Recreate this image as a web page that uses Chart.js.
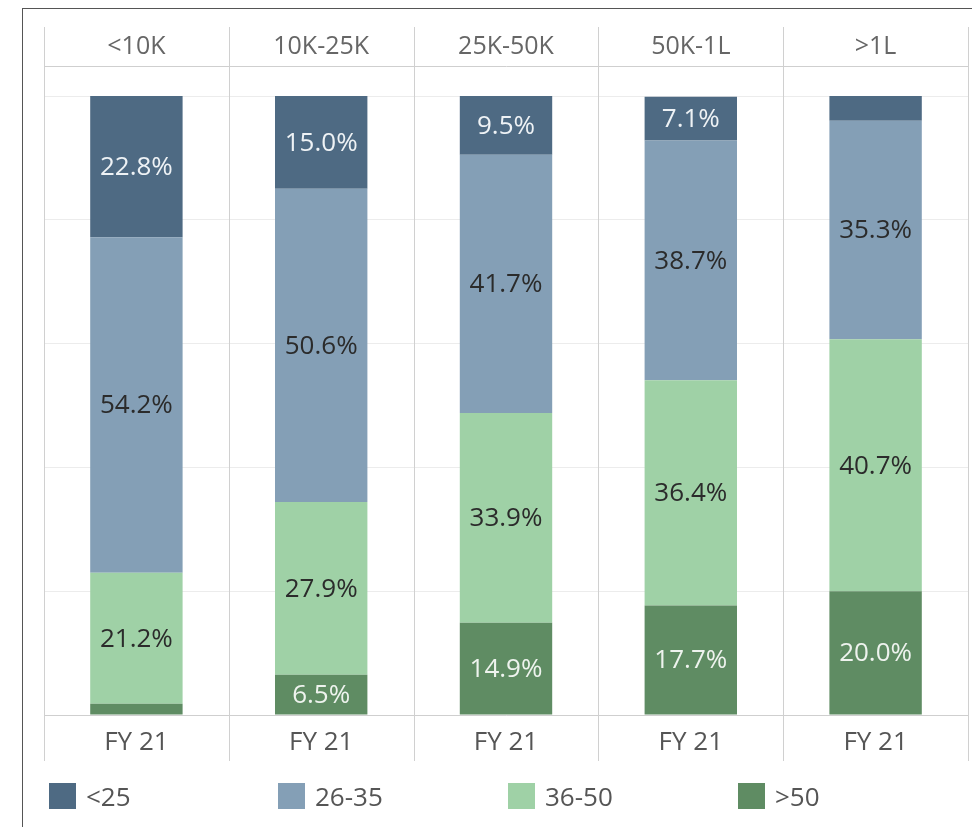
<!DOCTYPE html>
<html>
<head>
<meta charset="utf-8">
<script src="https://cdn.jsdelivr.net/npm/chart.js@4/dist/chart.umd.min.js"></script>
<style>
  html, body { margin: 0; padding: 0; background: #fff; overflow: hidden; }
  #wrap { position: relative; width: 972px; height: 827px; }
  #frame { position: absolute; left: 22px; top: 8px; width: 1000px; height: 900px; border: 1px solid #555; box-sizing: border-box; }
  #c { position: absolute; left: 0; top: 0; }
  #legend { position: absolute; top: 783px; left: 0; width: 972px; height: 30px; font-family: "Open Sans", sans-serif; font-size: 26px; color: #555; }
  .item { position: absolute; top: 0; display: flex; align-items: center; height: 26px; }
  .sw { width: 27px; height: 26px; margin-right: 10px; }
</style>
</head>
<body>
<div id="wrap">
  <div id="frame"></div>
  <canvas id="c" width="972" height="827"></canvas>
  <div id="legend"></div>
</div>
<script>
const incomeGroups = ["<10K", "10K-25K", "25K-50K", "50K-1L", ">1L"];
const periodLabels = ["FY 21", "FY 21", "FY 21", "FY 21", "FY 21"];
const ageBands = ["<25", "26-35", "36-50", ">50"];
const under25 = [22.8, 15.0, 9.5, 7.1, 4.0];
const age26to35 = [54.2, 50.6, 41.7, 38.7, 35.3];
const age36to50 = [21.2, 27.9, 33.9, 36.4, 40.7];
const over50 = [1.8, 6.5, 14.9, 17.7, 20.0];
const yTickValues = [0, 20, 40, 60, 80, 100];

const bandColors = ["#4e6a83", "#849fb6", "#9fd1a6", "#5f8c63"];
const labelColors = ["#eef2f5", "#2b2b2b", "#2b2b2b", "#eef3ee"];
const seriesValues = [under25, age26to35, age36to50, over50];

const order = [3, 2, 1, 0];
const datasets = order.map(i => ({
  label: ageBands[i],
  data: seriesValues[i],
  backgroundColor: bandColors[i],
  borderWidth: 0,
  barPercentage: 0.5,
  categoryPercentage: 1.0,
  labelColor: labelColors[i]
}));

const leg = document.getElementById('legend');
const legX = [49, 278, 508, 738];
ageBands.forEach((b, i) => {
  const d = document.createElement('div');
  d.className = 'item';
  d.style.left = legX[i] + 'px';
  d.innerHTML = '<div class="sw" style="background:' + bandColors[i] + '"></div><span>' + b.replace('<', '&lt;').replace('>', '&gt;') + '</span>';
  leg.appendChild(d);
});

const FONT = '"Open Sans", sans-serif';

const valueLabels = {
  id: 'valueLabels',
  afterDatasetsDraw(chart) {
    const ctx = chart.ctx;
    ctx.save();
    ctx.font = '26px ' + FONT;
    ctx.textAlign = 'center';
    ctx.textBaseline = 'middle';
    chart.data.datasets.forEach((ds, di) => {
      const meta = chart.getDatasetMeta(di);
      meta.data.forEach((el, j) => {
        const v = ds.data[j];
        if (v < 5) return;
        ctx.fillStyle = ds.labelColor;
        ctx.fillText(v.toFixed(1) + '%', el.x, (el.y + el.base) / 2 + 1);
      });
    });
    ctx.restore();
  }
};

const panelDividers = {
  id: 'panelDividers',
  afterDraw(chart) {
    const x = chart.scales.x;
    const top = chart.scales.xTop;
    const ctx = chart.ctx;
    const n = incomeGroups.length;
    ctx.save();
    ctx.strokeStyle = '#d0d0d0';
    ctx.lineWidth = 1;
    for (let i = 0; i <= n; i++) {
      const px = Math.round(x.left + i * (x.right - x.left) / n) + 0.5;
      ctx.beginPath();
      ctx.moveTo(px, top.top);
      ctx.lineTo(px, x.top + 46);
      ctx.stroke();
    }
    ctx.restore();
  }
};

new Chart(document.getElementById('c'), {
  type: 'bar',
  data: { labels: periodLabels, datasets },
  options: {
    responsive: false,
    animation: false,
    devicePixelRatio: 1,
    layout: { padding: { left: 44, right: 4, top: 27, bottom: 56 } },
    plugins: { legend: { display: false }, tooltip: { enabled: false } },
    scales: {
      x: {
        stacked: true,
        position: 'bottom',
        grid: { display: false, drawTicks: false },
        border: { display: true, color: '#cfcfcf' },
        ticks: { color: '#555', font: { family: FONT, size: 26, lineHeight: 1.0 }, padding: 15, maxRotation: 0 }
      },
      xTop: {
        type: 'category',
        labels: incomeGroups,
        position: 'top',
        grid: { display: false, drawTicks: false },
        border: { display: true, color: '#cfcfcf' },
        ticks: { color: '#666', font: { family: FONT, size: 25, lineHeight: 1.0 }, padding: 7, maxRotation: 0 }
      },
      y: {
        stacked: true,
        min: 0,
        max: 104.85,
        afterBuildTicks(scale) { scale.ticks = yTickValues.map(v => ({ value: v })); },
        ticks: { display: false },
        grid: { color: '#ececec', drawTicks: false },
        border: { display: false }
      }
    }
  },
  plugins: [valueLabels, panelDividers]
});
</script>
</body>
</html>
